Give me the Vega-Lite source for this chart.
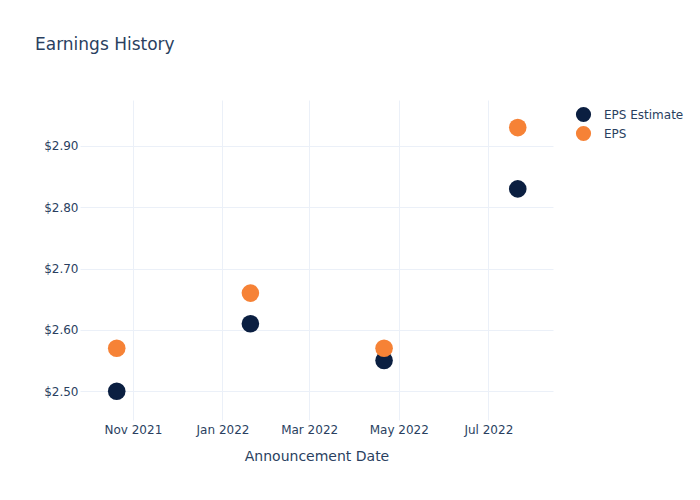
{
  "$schema": "https://vega.github.io/schema/vega-lite/v6.json",
  "width": 473,
  "height": 320,
  "autosize": {"type": "none"},
  "padding": {"left": 80, "top": 100, "right": 147, "bottom": 80},
  "background": "white",
  "title": {
    "text": "Earnings History",
    "anchor": "start",
    "frame": "group",
    "dx": -45,
    "offset": 46,
    "font": "DejaVu Sans",
    "fontSize": 17,
    "fontWeight": "normal",
    "color": "#2a3f5f"
  },
  "config": {
    "view": {"stroke": null},
    "font": "DejaVu Sans"
  },
  "data": {
    "values": [
      {"date": "2021-10-21", "series": "EPS Estimate", "value": 2.50},
      {"date": "2022-01-20", "series": "EPS Estimate", "value": 2.61},
      {"date": "2022-04-21", "series": "EPS Estimate", "value": 2.55},
      {"date": "2022-07-21", "series": "EPS Estimate", "value": 2.83},
      {"date": "2021-10-21", "series": "EPS", "value": 2.57},
      {"date": "2022-01-20", "series": "EPS", "value": 2.66},
      {"date": "2022-04-21", "series": "EPS", "value": 2.57},
      {"date": "2022-07-21", "series": "EPS", "value": 2.93}
    ]
  },
  "mark": {"type": "point", "filled": true, "size": 310, "opacity": 1},
  "encoding": {
    "x": {
      "field": "date",
      "type": "temporal",
      "title": "Announcement Date",
      "scale": {"domain": [{"year": 2021, "month": 9, "date": 26}, {"year": 2022, "month": 8, "date": 14}]},
      "axis": {
        "values": [
          {"year": 2021, "month": 11, "date": 1},
          {"year": 2022, "month": 1, "date": 1},
          {"year": 2022, "month": 3, "date": 1},
          {"year": 2022, "month": 5, "date": 1},
          {"year": 2022, "month": 7, "date": 1}
        ],
        "format": "%b %Y",
        "domain": false,
        "ticks": false,
        "grid": true,
        "gridColor": "#ebf0f8",
        "labelFontSize": 12,
        "labelColor": "#2a3f5f",
        "labelPadding": 4,
        "labelFlush": false,
        "titleFontSize": 14,
        "titleFontWeight": "normal",
        "titleColor": "#2a3f5f",
        "titlePadding": 14
      }
    },
    "y": {
      "field": "value",
      "type": "quantitative",
      "title": null,
      "scale": {"domain": [2.453, 2.975], "zero": false, "nice": false},
      "axis": {
        "values": [2.5, 2.6, 2.7, 2.8, 2.9],
        "format": "$.2f",
        "domain": false,
        "ticks": false,
        "grid": true,
        "gridColor": "#ebf0f8",
        "labelFontSize": 12,
        "labelColor": "#2a3f5f",
        "labelPadding": 2
      }
    },
    "color": {
      "field": "series",
      "type": "nominal",
      "title": null,
      "scale": {"domain": ["EPS Estimate", "EPS"], "range": ["#0b1f41", "#f68236"]},
      "legend": {
        "orient": "none",
        "legendX": 495,
        "legendY": 6,
        "symbolSize": 230,
        "symbolType": "circle",
        "symbolOpacity": 1,
        "labelFontSize": 12,
        "labelColor": "#2a3f5f",
        "labelOffset": 12,
        "rowPadding": 2
      }
    },
    "order": {"field": "series", "sort": "descending"}
  }
}
